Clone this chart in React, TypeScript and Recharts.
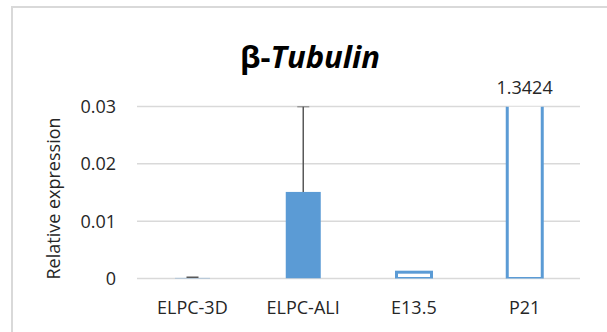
import { BarChart, Bar, XAxis, YAxis, CartesianGrid, Cell, ReferenceDot } from "recharts";

const categories = ["ELPC-3D", "ELPC-ALI", "E13.5", "P21"];
const expression = [0.0001, 0.0151, 0.0011, 1.3424];
const errorPlus = [0.0001, 0.0149, 0, 0];
const yTicks = [0, 0.01, 0.02, 0.03];
const hollowBars = ["E13.5", "P21"];
const offScaleLabel = "P21";

const data = categories.map((name, i) => ({ name, value: expression[i], err: errorPlus[i] }));

const BLUE = "#5B9BD5";
const FONT = "'Open Sans', sans-serif";
const Y_MAX = yTicks[yTicks.length - 1];

// bar body: filled, or hollow; hollow bars running off the axis have an open top
function ValueBar(props: any) {
  const { x, y, width, height, payload } = props;
  if (!hollowBars.includes(payload.name)) {
    return <rect x={x} y={y} width={width} height={height} fill={BLUE} />;
  }
  if (payload.value > Y_MAX) {
    const d = `M${x},${y} L${x},${y + height} L${x + width},${y + height} L${x + width},${y}`;
    return <path d={d} fill="#fff" stroke={BLUE} strokeWidth={3} />;
  }
  return <rect x={x} y={y} width={width} height={height} fill="#fff" stroke={BLUE} strokeWidth={3} />;
}

// plus-only error bar drawn on top of the stacked value
function Whisker(props: any) {
  const { x, y, width, height } = props;
  if (!height || height <= 0) return <g />;
  const cx = x + width / 2;
  return (
    <g stroke="#595959" strokeWidth={1.5}>
      <line x1={cx} y1={y + height} x2={cx} y2={y} />
      <line x1={cx - 6} y1={y} x2={cx + 6} y2={y} />
    </g>
  );
}

export default function App() {
  const labelIdx = categories.indexOf(offScaleLabel);
  return (
    <div style={{ position: "relative", width: 607, height: 332, background: "#fff", fontFamily: FONT }}>
      <style>{`body{margin:0}`}</style>
      <div
        style={{
          position: "absolute",
          left: 11,
          top: 6,
          width: 594,
          height: 324,
          borderLeft: "2px solid #D9D9D9",
          borderTop: "2px solid #D9D9D9",
        }}
      />
      <div
        style={{
          position: "absolute",
          left: 0,
          width: 620,
          top: 36,
          textAlign: "center",
          fontSize: 31,
          fontWeight: 700,
          color: "#000",
          lineHeight: "40px",
        }}
      >
        β-<i>Tubulin</i>
      </div>
      <BarChart
        width={607}
        height={332}
        data={data}
        margin={{ top: 106.5, right: 27, left: 0, bottom: 23.5 }}
        barSize={35}
        style={{ position: "absolute", left: 0, top: 0 }}
      >
        <CartesianGrid vertical={false} stroke="#D9D9D9" strokeWidth={1.5} />
        <XAxis
          dataKey="name"
          height={30}
          axisLine={false}
          tickLine={false}
          tickMargin={17}
          tick={{ fontSize: 18, fill: "#262626", fontFamily: FONT }}
        />
        <YAxis
          width={137}
          domain={[0, Y_MAX]}
          ticks={yTicks}
          allowDataOverflow
          axisLine={false}
          tickLine={false}
          tickMargin={15}
          tick={{ fontSize: 18, fill: "#262626", fontFamily: FONT }}
          label={{
            value: "Relative expression",
            angle: -90,
            position: "center",
            dx: -15,
            dy: 6,
            style: { fontSize: 18, fill: "#262626", fontFamily: FONT, textAnchor: "middle" },
          }}
        />
        <Bar dataKey="value" stackId="s" isAnimationActive={false} shape={<ValueBar />}>
          {data.map((d) => (
            <Cell key={d.name} />
          ))}
        </Bar>
        <Bar dataKey="err" stackId="s" isAnimationActive={false} shape={<Whisker />} />
        <ReferenceDot
          x={offScaleLabel}
          y={Y_MAX}
          r={0}
          fill="none"
          stroke="none"
          ifOverflow="visible"
          label={{
            value: String(expression[labelIdx]),
            position: "top",
            offset: 13,
            style: { fontSize: 18, fill: "#262626", fontFamily: FONT },
          }}
        />
      </BarChart>
    </div>
  );
}
